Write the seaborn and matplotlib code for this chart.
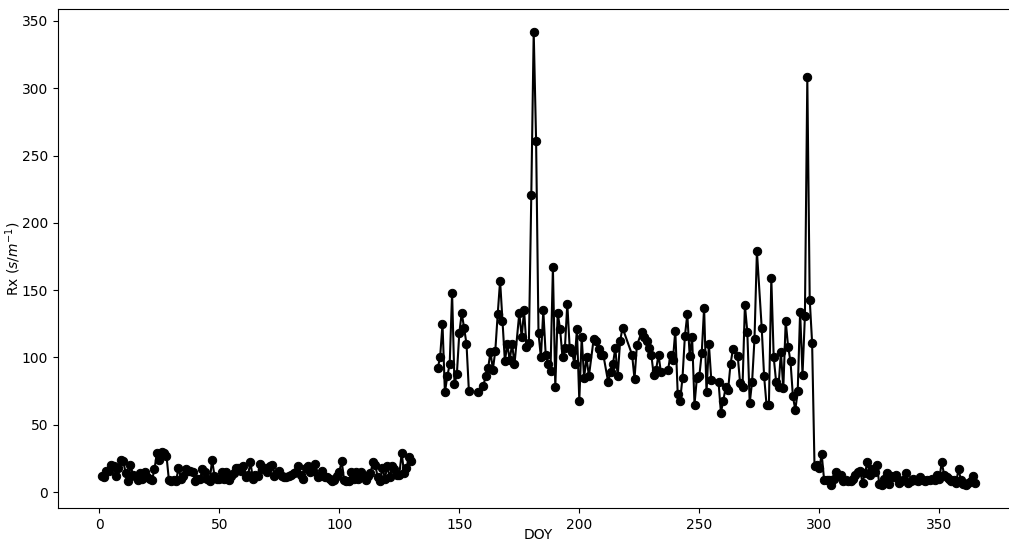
"""Daily Rx time series (DOY vs Rx) drawn as a black line with dot markers."""
import matplotlib
matplotlib.use("Agg")
import matplotlib.pyplot as plt
import numpy as np
import pandas as pd
import seaborn as sns

# winter block, days 1-130
doy_a = list(range(1, 131))
rx_a = [12, 11, 16, 16, 20, 19, 12, 18, 24, 23,
        14, 8, 20, 13, 12, 9, 14, 10, 15, 11,
        10, 9, 17, 29, 24, 30, 29, 27, 9, 8,
        9, 8, 18, 10, 12, 17, 16, 16, 15, 8,
        10, 10, 17, 15, 10, 8, 24, 12, 10, 10,
        15, 10, 15, 9, 12, 14, 18, 18, 16, 19,
        11, 13, 22, 10, 13, 12, 21, 17, 18, 15,
        19, 20, 12, 14, 16, 12, 11, 11, 12, 13,
        14, 15, 19, 13, 10, 18, 19, 15, 16, 21,
        11, 12, 16, 11, 11, 10, 8, 9, 12, 15,
        23, 9, 8, 8, 15, 10, 15, 10, 15, 12,
        9, 12, 14, 22, 20, 11, 8, 18, 10, 19,
        11, 19, 17, 13, 13, 29, 14, 18, 26, 23]

# short block before the gap around DOY 155
doy_b = list(range(141, 155))
rx_b = [92, 100, 125, 74, 86, 95, 148, 80, 88, 118, 133, 122, 110, 75]

# summer block
doy_c = [158, 160, 161, 162, 163, 164, 165, 166, 167, 168, 169, 170, 171, 172,
         173, 175, 176, 177, 178, 179, 180, 181, 182, 183, 184, 185, 186, 187,
         188, 189, 190, 191, 192, 193, 194, 195, 196, 197, 198, 199, 200, 201,
         202, 203, 204, 206, 207, 208, 209, 210, 212, 213, 214, 215, 216, 217,
         218, 222, 223, 224, 226, 227, 228, 229, 230, 231, 232, 233, 234, 237,
         238, 239, 240, 241, 242, 243, 244, 245, 246, 247, 248, 249, 250, 251,
         252, 253, 254, 255, 258, 259, 260, 261, 262, 263, 264, 266, 267, 268,
         269, 270, 271, 272, 273, 274, 276, 277, 278, 279, 280, 281, 282, 283,
         284, 285, 286, 287, 288, 289, 290, 291, 292, 293, 294, 295, 296, 297]
rx_c = [74, 79, 86, 92, 104, 91, 105, 132, 157, 127, 97, 110, 98, 110,
        95, 133, 115, 135, 108, 111, 221, 342, 261, 118, 100, 135, 102, 95,
        90, 167, 78, 133, 121, 100, 107, 140, 107, 104, 95, 121, 68, 115,
        85, 100, 86, 114, 112, 106, 102, 102, 82, 89, 95, 107, 86, 112,
        122, 102, 84, 109, 119, 115, 112, 107, 102, 87, 91, 102, 89, 91,
        102, 98, 120, 73, 68, 85, 116, 132, 101, 115, 65, 85, 86, 103,
        137, 74, 110, 83, 82, 59, 68, 78, 76, 95, 106, 101, 81, 78,
        139, 119, 66, 82, 114, 179, 122, 86, 65, 65, 159, 100, 82, 78,
        104, 77, 127, 108, 97, 71, 61, 75, 134, 87, 131, 308, 143, 111]

# autumn block, continues the summer line
doy_d = list(range(298, 366))
rx_d = [19, 20, 18, 28, 9, 9, 9, 5, 10, 15,
        12, 13, 8, 9, 8, 8, 10, 13, 15, 16,
        7, 14, 22, 13, 17, 15, 20, 6, 5, 10,
        14, 6, 12, 11, 13, 7, 8, 9, 14, 7,
        8, 10, 9, 8, 11, 9, 8, 9, 9, 10,
        9, 13, 10, 22, 13, 11, 10, 8, 9, 7,
        17, 9, 6, 5, 7, 8, 12, 7]


def main() -> None:
    df = pd.DataFrame({
        "DOY": doy_a + doy_b + doy_c + doy_d,
        "Rx": rx_a + rx_b + rx_c + rx_d,
        "seg": ["a"] * len(doy_a) + ["b"] * len(doy_b)
        + ["c"] * (len(doy_c) + len(doy_d)),
    })

    fig = plt.figure(figsize=(10.09, 5.41), dpi=100)
    # right edge of the axes runs past the canvas, as in the original crop
    ax = fig.add_axes([58 / 1009, 33 / 541, 961 / 1009, 499 / 541])
    sns.lineplot(
        data=df, x="DOY", y="Rx", units="seg", estimator=None, sort=False,
        color="k", marker="o", markersize=6, markeredgecolor="k",
        linewidth=1.5, ax=ax,
    )
    ax.set_xlabel("DOY")
    ax.set_ylabel(r"Rx ($s/m^{-1}$)")
    ax.set_xticks(np.arange(0, 351, 50))
    ax.xaxis.set_label_coords(0.5, -0.040)
    ax.yaxis.set_label_coords(-0.036, 0.5)
    fig.savefig("out.png", dpi=100)
    plt.close(fig)


if __name__ == "__main__":
    main()
